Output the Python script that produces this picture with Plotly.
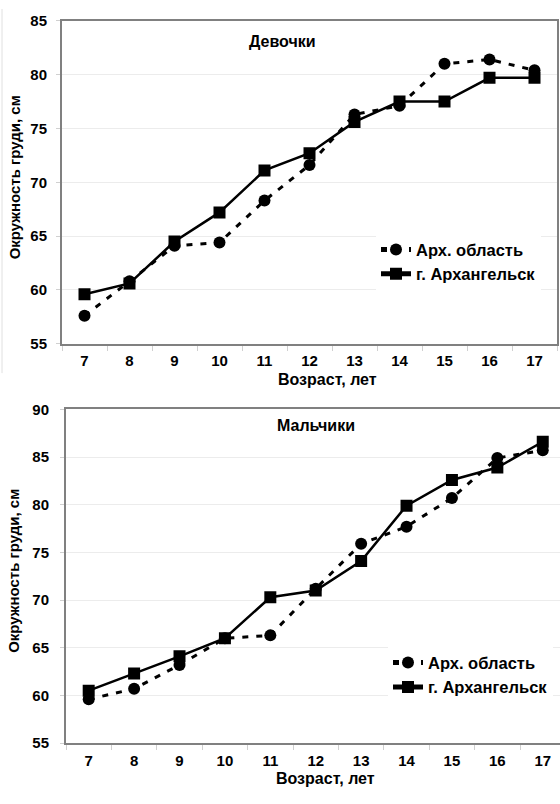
import plotly.graph_objects as go

ages = ["7", "8", "9", "10", "11", "12", "13", "14", "15", "16", "17"]

girls_region = [57.6, 60.8, 64.1, 64.4, 68.3, 71.6, 76.3, 77.1, 81.0, 81.4, 80.4]
girls_city = [59.6, 60.6, 64.5, 67.2, 71.1, 72.7, 75.6, 77.5, 77.5, 79.7, 79.7]

boys_region = [59.6, 60.7, 63.2, 66.0, 66.3, 71.2, 75.9, 77.7, 80.7, 84.9, 85.7]
boys_city = [60.5, 62.3, 64.1, 66.0, 70.3, 71.0, 74.1, 79.9, 82.6, 83.9, 86.6]

name_region = "Арх. область"
name_city = "г. Архангельск"
title_girls = "Девочки"
title_boys = "Мальчики"
y_title = "Окружность груди, см"
x_title = "Возраст, лет"

W, H = 560, 804
FONT = "Liberation Sans, Arial, sans-serif"
TICK = dict(family=FONT, size=15, color="#000000", weight="bold")
TITLE = dict(family=FONT, size=16, color="#000000", weight="bold")
YTITLE = dict(family=FONT, size=15, color="#000000", weight="bold")
LEG = dict(family=FONT, size=16.5, color="#000000", weight="bold")


def px(xp):
    return xp / W


def py(yp):
    return 1 - yp / H


fig = go.Figure()

for vals_r, vals_c, xa, ya, leg in [
    (girls_region, girls_city, "x", "y", "legend"),
    (boys_region, boys_city, "x2", "y2", "legend2"),
]:
    fig.add_trace(go.Scatter(
        x=ages, y=vals_r, name=name_region, xaxis=xa, yaxis=ya, legend=leg,
        mode="lines+markers",
        line=dict(color="#000000", width=3, dash="6px,8px"),
        marker=dict(symbol="circle", size=12, color="#000000"),
    ))
    fig.add_trace(go.Scatter(
        x=ages, y=vals_c, name=name_city, xaxis=xa, yaxis=ya, legend=leg,
        mode="lines+markers",
        line=dict(color="#000000", width=2.5),
        marker=dict(symbol="square", size=12, color="#000000"),
    ))

axis_common = dict(
    showline=True, linecolor="#808080", linewidth=2,
    tickfont=TICK, zeroline=False,
)

fig.update_layout(
    width=W, height=H,
    margin=dict(l=0, r=0, t=0, b=0),
    paper_bgcolor="white", plot_bgcolor="white",
    font=dict(family=FONT),
    showlegend=True,
    xaxis=dict(
        domain=[px(62), px(557)], anchor="y", type="category",
        range=[-0.5, 10.5], tickson="boundaries", ticks="outside",
        ticklen=5, tickcolor="#d0d0d0", showgrid=False, mirror=True,
        ticklabelstandoff=2, **axis_common,
    ),
    yaxis=dict(
        domain=[py(342), py(12)], anchor="x", range=[55, 85], dtick=5,
        ticks="outside", ticklen=4, tickcolor="#d0d0d0",
        showgrid=True, gridcolor="#ececec", gridwidth=1, mirror=True,
        ticklabelstandoff=6, **axis_common,
    ),
    xaxis2=dict(
        domain=[px(66), 1.0], anchor="y2", type="category",
        range=[-0.5, 10.38], tickson="boundaries", ticks="outside",
        ticklen=5, tickcolor="#d0d0d0", showgrid=False, mirror=True,
        ticklabelstandoff=3, **axis_common,
    ),
    yaxis2=dict(
        domain=[py(750), py(409)], anchor="x2", range=[55, 90], dtick=5,
        ticks="outside", ticklen=4, tickcolor="#d0d0d0",
        showgrid=True, gridcolor="#ececec", gridwidth=1, mirror=False,
        ticklabelstandoff=8, **axis_common,
    ),
    legend=dict(
        x=px(376), xanchor="left", y=py(228), yanchor="top",
        bgcolor="white", borderwidth=0, font=LEG,
        tracegroupgap=0, itemsizing="constant",
    ),
    legend2=dict(
        x=px(388), xanchor="left", y=py(650), yanchor="top",
        bgcolor="white", borderwidth=0, font=LEG,
        tracegroupgap=0, itemsizing="constant",
    ),
)

annotations = [
    dict(text=title_girls, x=px(282), y=py(33), font=TITLE),
    dict(text=title_boys, x=px(316), y=py(426), font=TITLE),
    dict(text=x_title, x=px(327), y=py(379), font=TITLE),
    dict(text=x_title, x=px(325), y=py(786), font=TITLE),
    dict(text=y_title, x=px(14), y=py(172), textangle=-90, font=YTITLE),
    dict(text=y_title, x=px(14), y=py(574), textangle=-90, font=YTITLE),
]
for a in annotations:
    fig.add_annotation(
        xref="paper", yref="paper", showarrow=False,
        xanchor="center", yanchor="middle", **a,
    )

fig.add_shape(type="line", xref="paper", yref="paper",
              x0=px(2), x1=px(2), y0=py(372), y1=1,
              line=dict(color="#e0e0e0", width=1))

fig.write_html("out.html")
